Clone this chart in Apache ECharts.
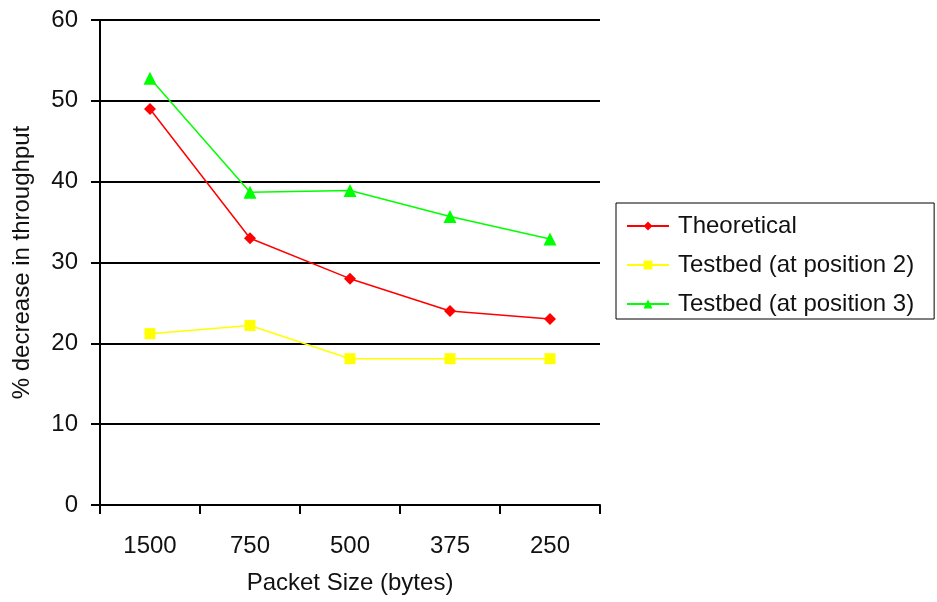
<!DOCTYPE html>
<html>
<head>
<meta charset="utf-8">
<script src="https://cdn.jsdelivr.net/npm/echarts@6/dist/echarts.min.js"></script>
<style>
  html, body { margin: 0; padding: 0; background: #fff; }
  #chart { width: 937px; height: 602px; }
</style>
</head>
<body>
<div id="chart"></div>
<script>
// Packet sizes (bytes) on the category axis
const packetSizes = ['1500', '750', '500', '375', '250'];

// % decrease in throughput for each series
const theoretical = [49, 33, 28, 24, 23];
const testbedPos2 = [21.2, 22.2, 18.1, 18.1, 18.1];
const testbedPos3 = [52.8, 38.7, 38.9, 35.7, 32.9];

const yTicks = { min: 0, max: 60, interval: 10 };

const font = 'Liberation Sans, Arial, sans-serif';
const fontSize = 24;
const textColor = '#111';

const chart = echarts.init(document.getElementById('chart'), null, { renderer: 'canvas' });

function lineSeries(name, data, color, symbol, size) {
  return {
    name: name,
    type: 'line',
    data: data,
    symbol: symbol,
    symbolSize: size,
    showAllSymbol: true,
    lineStyle: { color: color, width: 1.5 },
    itemStyle: { color: color },
    emphasis: { disabled: true },
    animation: false
  };
}

chart.setOption({
  backgroundColor: '#fff',
  animation: false,
  grid: { left: 100, top: 20, right: 337, bottom: 97, containLabel: false },
  legend: {
    orient: 'vertical',
    left: 616,
    top: 203,
    padding: [11, 20, 3, 10],
    borderColor: '#000',
    borderWidth: 1,
    itemWidth: 42,
    itemHeight: 11,
    itemGap: 15,
    textStyle: { fontFamily: font, fontSize: fontSize, color: textColor, padding: [0, 0, 0, 4] },
    data: ['Theoretical', 'Testbed (at position 2)', 'Testbed (at position 3)']
  },
  xAxis: {
    type: 'category',
    data: packetSizes,
    boundaryGap: true,
    name: 'Packet Size (bytes)',
    nameLocation: 'middle',
    nameGap: 66,
    nameTextStyle: { fontFamily: font, fontSize: fontSize, color: textColor },
    axisLine: { lineStyle: { color: '#000', width: 2 } },
    axisTick: { show: true, length: 9, inside: false, lineStyle: { color: '#000', width: 2 } },
    axisLabel: { fontFamily: font, fontSize: fontSize, color: textColor, margin: 29 },
    splitLine: { show: false }
  },
  yAxis: {
    type: 'value',
    min: yTicks.min,
    max: yTicks.max,
    interval: yTicks.interval,
    name: '% decrease in throughput',
    nameLocation: 'middle',
    nameGap: 66,
    nameTextStyle: { fontFamily: font, fontSize: fontSize, color: textColor },
    axisLine: { show: true, lineStyle: { color: '#000', width: 2 } },
    axisTick: { show: true, length: 9, inside: false, lineStyle: { color: '#000', width: 2 } },
    axisLabel: { fontFamily: font, fontSize: fontSize, color: textColor, margin: 22 },
    splitLine: { show: true, lineStyle: { color: '#000', width: 2 } }
  },
  series: [
    lineSeries('Theoretical', theoretical, '#ff0000', 'diamond', 12),
    lineSeries('Testbed (at position 2)', testbedPos2, '#ffff00', 'rect', 11),
    lineSeries('Testbed (at position 3)', testbedPos3, '#00ff00', 'triangle', 13)
  ]
});
</script>
</body>
</html>
